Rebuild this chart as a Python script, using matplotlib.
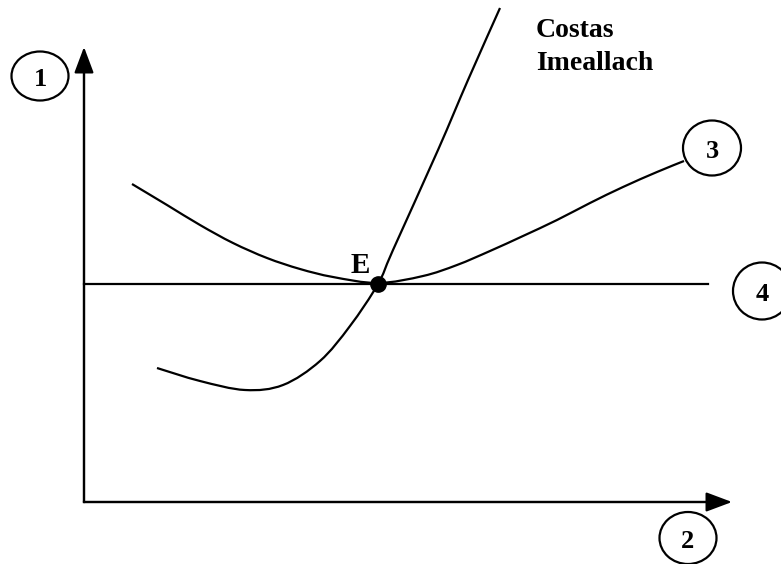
import numpy as np
import matplotlib.pyplot as plt
from matplotlib.patches import Ellipse, PathPatch
from matplotlib.path import Path

# positions, in pixel units (y grows downward)
mc_x = [157, 200, 245, 283, 320, 350, 378, 393, 438, 468, 500]
mc_y = [368, 381, 390, 385, 361, 326, 284, 250, 150, 80, 8]

ac_x = [132, 167, 200, 233, 267, 300, 333, 378, 423, 457, 490, 523, 557, 590, 623, 657, 684]
ac_y = [184, 205, 225, 243, 258, 269, 277, 283, 276, 265, 251, 236, 220, 203, 187, 172, 161]

price_y = 284
price_x = [84, 708]
eq_point = (378, 284)

origin = (84, 502)
y_tip = 47
x_tip = 732

labels = ["1", "2", "3", "4"]
label_xy = [(40, 76), (688, 538), (712, 148), (762, 291)]
circle_w = [57, 57, 58, 58]
circle_h = [49, 52, 55, 57]

serif = ["Liberation Serif", "DejaVu Serif"]


def smooth_path(xs, ys):
    # catmull-rom through the points, handed to matplotlib as cubic beziers
    p = np.column_stack([xs, ys]).astype(float)
    p = np.vstack([p[0], p, p[-1]])
    verts = [p[1]]
    codes = [Path.MOVETO]
    for i in range(1, len(p) - 2):
        c1 = p[i] + (p[i + 1] - p[i - 1]) / 6
        c2 = p[i + 1] - (p[i + 2] - p[i]) / 6
        verts += [c1, c2, p[i + 1]]
        codes += [Path.CURVE4] * 3
    return Path(verts, codes)


def main():
    fig = plt.figure(figsize=(7.81, 5.64), dpi=100)
    ax = fig.add_axes([0, 0, 1, 1])
    ax.set_xlim(0, 781)
    ax.set_ylim(564, 0)
    ax.axis("off")

    lw = 1.6
    arrow = dict(arrowstyle="-|>,head_length=0.8,head_width=0.3", color="black",
                 lw=lw, shrinkA=0, shrinkB=0, mutation_scale=20)
    ax.annotate("", xy=(origin[0], y_tip), xytext=origin, arrowprops=arrow)
    ax.annotate("", xy=(x_tip, origin[1]), xytext=origin, arrowprops=arrow)
    ax.plot([origin[0], origin[0]], [origin[1], y_tip + 10], color="black", lw=lw,
            solid_capstyle="projecting")
    ax.plot([origin[0], x_tip - 10], [origin[1], origin[1]], color="black", lw=lw,
            solid_capstyle="projecting")

    ax.plot(price_x, [price_y, price_y], color="black", lw=lw)
    for xs, ys in [(ac_x, ac_y), (mc_x, mc_y)]:
        ax.add_patch(PathPatch(smooth_path(xs, ys), fill=False, ec="black", lw=lw))
    ax.plot(*eq_point, "o", color="black", ms=11)

    ax.text(360, 273, "E", fontsize=21, fontweight="bold", family=serif,
            ha="center", va="baseline")
    ax.text(536, 37, "Costas", fontsize=20, fontweight="bold", family=serif,
            ha="left", va="baseline")
    ax.text(536, 70, "Imeallach", fontsize=20, fontweight="bold", family=serif,
            ha="left", va="baseline")

    for lab, (cx, cy), w, h in zip(labels, label_xy, circle_w, circle_h):
        ax.add_patch(Ellipse((cx, cy), w, h, fill=False, ec="black", lw=lw))
        ax.text(cx, cy + 1, lab, fontsize=19, fontweight="bold", family=serif,
                ha="center", va="center_baseline")

    fig.savefig("out.png", dpi=100)


if __name__ == "__main__":
    main()
